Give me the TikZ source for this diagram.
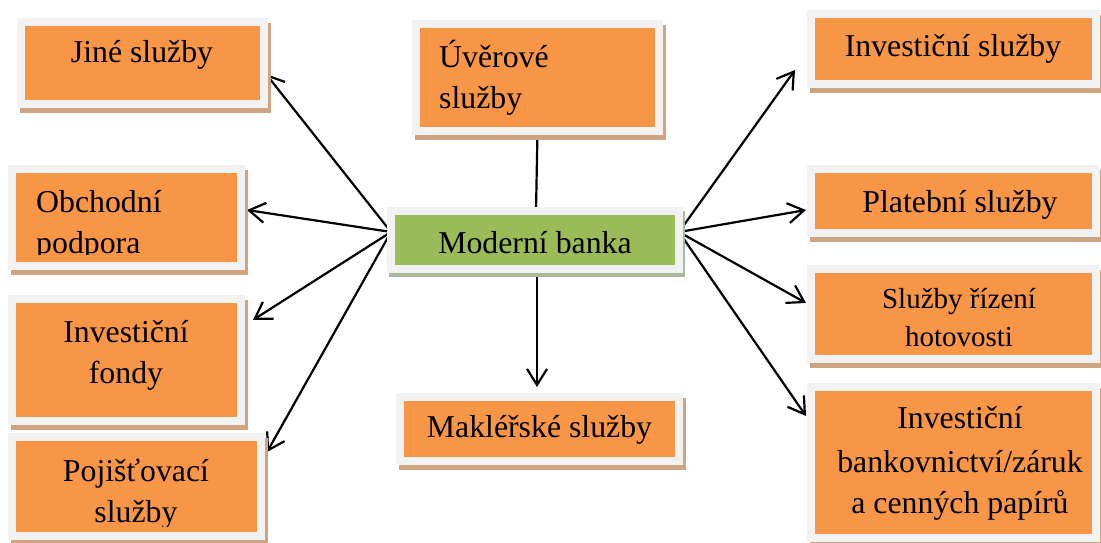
\documentclass[tikz,border=0pt]{standalone}
\usepackage{fontspec}
\setmainfont{Liberation Serif}
\usetikzlibrary{arrows.meta,backgrounds}
\definecolor{orangefill}{HTML}{F79646}
\definecolor{greenfill}{HTML}{9BBB59}
\definecolor{framegray}{HTML}{F2F2F2}
\definecolor{shadowtan}{HTML}{CFA483}
\definecolor{shadowgreen}{HTML}{AAB99A}
\begin{document}
\begin{tikzpicture}[x=1pt,y=-1pt,
  box/.style={rectangle, inner sep=0pt, outer sep=0pt, fill=orangefill, draw=framegray, line width=8pt,
    preaction={fill=shadowtan, draw=shadowtan, line width=8pt, transform canvas={shift={(3pt,-5pt)}}}},
  gbox/.style={rectangle, inner sep=0pt, outer sep=0pt, fill=greenfill, draw=framegray, line width=8pt,
    preaction={fill=shadowgreen, draw=shadowgreen, line width=8pt, transform canvas={shift={(2pt,-4pt)}}}},
  txt/.style={inner sep=0pt, font=\fontsize{31.8}{38}\selectfont},
  stxt/.style={inner sep=0pt, font=\fontsize{29}{35}\selectfont},
  link/.style={line width=2.2pt, black},
  arr/.style={link, -{Straight Barb[length=16pt,width=20pt]}}
]
\useasboundingbox (0,0) rectangle (1101,543);

% boxes
\node[box, minimum width=243pt, minimum height=82pt]  (js) at (142.5,63) {};
\node[box, minimum width=229pt, minimum height=97pt]  (ob) at (126.5,217.5) {};
\node[box, minimum width=229pt, minimum height=122pt] (if) at (126.5,360) {};
\node[box, minimum width=249pt, minimum height=99pt]  (ps) at (136.5,486.5) {};
\node[box, minimum width=243pt, minimum height=107pt] (us) at (537.5,77.5) {};
\node[gbox, minimum width=288pt, minimum height=58pt] (mb) at (535,240) {};
\node[box, minimum width=279pt, minimum height=64pt]  (mk) at (539.5,429) {};
\node[box, minimum width=285pt, minimum height=70pt]  (is) at (953.5,49) {};
\node[box, minimum width=285pt, minimum height=64pt]  (pl) at (953.5,201) {};
\node[box, minimum width=285pt, minimum height=90pt]  (sr) at (953.5,314) {};
\node[box, minimum width=285pt, minimum height=151pt] (ib) at (953.5,462.5) {};

% texts
\node[txt, anchor=base] (tjs) at (142,63) {Jiné služby};
\node[txt, anchor=base west] (tus1) at (439,67) {Úvěrové};
\node[txt, anchor=base west] (tus2) at (439,108) {služby};
\begin{scope}
  \clip (12,169) rectangle (245,254);
  \node[txt, anchor=base west] (tob1) at (36,212) {Obchodní};
  \node[txt, anchor=base west] (tob2) at (36,253) {podpora};
\end{scope}
\node[txt, anchor=base] (tif1) at (126,342) {Investiční};
\node[txt, anchor=base] (tif2) at (126,383) {fondy};
\begin{scope}
  \clip (12,437) rectangle (265,526);
  \node[txt, anchor=base] (tps1) at (136,481) {Pojišťovací};
  \node[txt, anchor=base] (tps2) at (136,522) {služby};
\end{scope}
\node[txt, anchor=base] (tmb) at (535,253) {Moderní banka};
\node[txt, anchor=base] (tmk) at (539.5,437) {Makléřské služby};
\node[txt, anchor=base] (tis) at (953,57) {Investiční služby};
\node[txt, anchor=base] (tpl) at (960,212) {Platební služby};
\node[stxt, anchor=base] (tsr1) at (959,308) {Služby řízení};
\node[stxt, anchor=base] (tsr2) at (959,346) {hotovosti};
\node[txt, anchor=base] (tib1) at (960,428) {Investiční};
\node[txt, anchor=base] (tib2) at (960,472) {bankovnictví/záruk};
\node[txt, anchor=base] (tib3) at (960,513) {a cenných papírů};

% connectors
\begin{pgfonlayer}{background}
  \draw[link] (us.south) -- ([xshift=1pt]mb.north);
  \draw[arr] ([xshift=2pt]mb.south) -- ([xshift=-2.5pt,yshift=10pt]mk.north);
  \draw[arr] ([yshift=8pt]mb.west) -- ([xshift=2pt,yshift=-11pt]js.east);
  \draw[arr] ([yshift=8pt]mb.west) -- ([xshift=6pt,yshift=7.5pt]ob.east);
  \draw[arr] ([yshift=8pt]mb.west) -- ([xshift=12pt,yshift=40pt]if.east);
  \draw[arr] ([yshift=8pt]mb.west) -- ([xshift=6pt,yshift=34.5pt]ps.east);
  \draw[arr] ([yshift=8pt]mb.east) -- ([xshift=-16pt,yshift=-21pt]is.west);
  \draw[arr] ([yshift=8pt]mb.east) -- ([xshift=-5pt,yshift=-9pt]pl.west);
  \draw[arr] ([yshift=8pt]mb.east) -- ([xshift=-5pt,yshift=11pt]sr.west);
  \draw[arr] ([yshift=8pt]mb.east) -- ([xshift=-5pt,yshift=46.5pt]ib.west);
\end{pgfonlayer}
\end{tikzpicture}
\end{document}
